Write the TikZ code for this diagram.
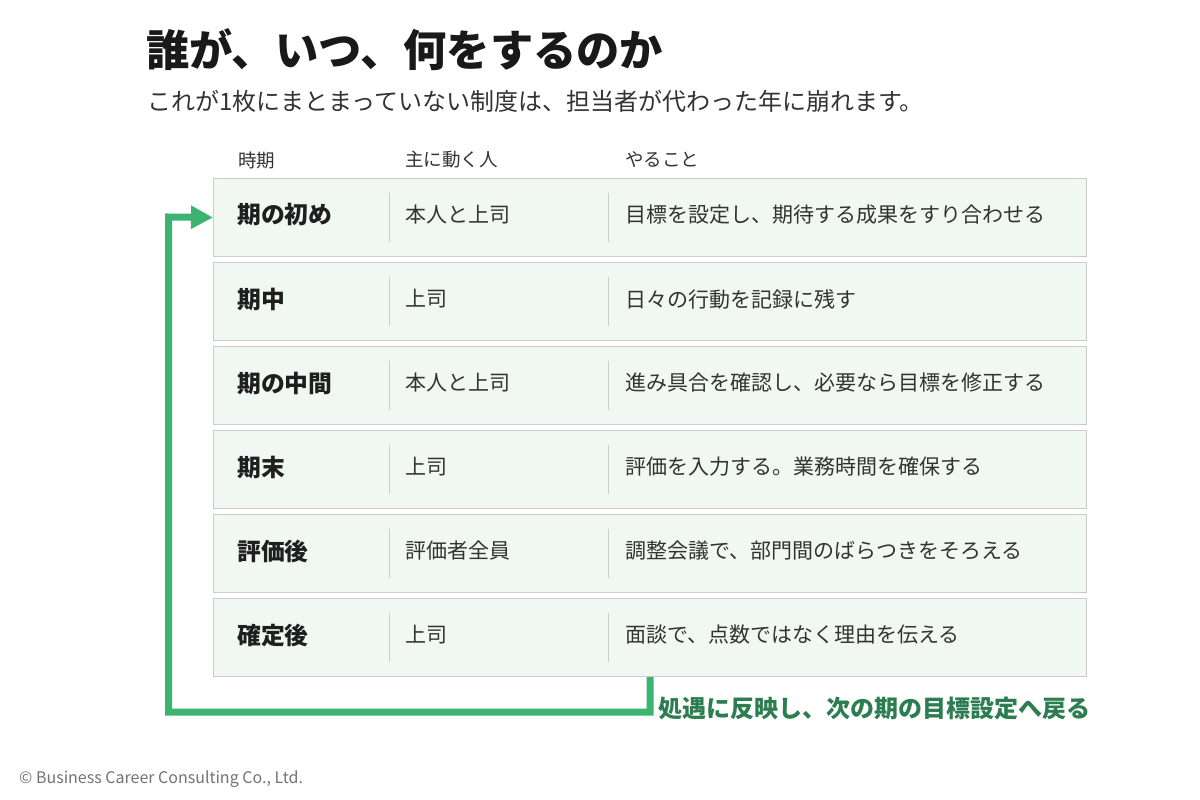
\documentclass[tikz,border=0pt]{standalone}
\usepackage{fontspec}
\setmainfont{Noto Sans CJK JP}
\usetikzlibrary{arrows.meta,calc,backgrounds}
\definecolor{rowfill}{HTML}{F1F8F3}
\definecolor{rowline}{HTML}{CCCCCC}
\definecolor{loopgreen}{HTML}{3DB372}
\definecolor{labgreen}{HTML}{2C7D50}
\definecolor{txt}{HTML}{333333}
\begin{document}
\begin{tikzpicture}[x=1pt,y=-1pt,
  rowbox/.style={draw=rowline,line width=1pt,fill=rowfill,minimum width=873pt,minimum height=78pt,anchor=north west,inner sep=0pt},
  divline/.style={draw=rowline,line width=1pt},
  phase/.style={anchor=west,inner sep=0pt,font=\fontsize{23.8}{28}\selectfont\bfseries,text=black!88},
  cell/.style={anchor=west,inner sep=0pt,font=\fontsize{21}{25}\selectfont,text=txt},
  head/.style={anchor=west,inner sep=0pt,font=\fontsize{18.5}{22}\selectfont,text=txt},
  loopline/.style={draw=loopgreen,line width=7pt}
]
\useasboundingbox (0,0) rectangle (1200,800);
\fill[white] (0,0) rectangle (1200,800);
\node[anchor=west,inner sep=0pt,font=\fontsize{43.3}{52}\selectfont\bfseries,text=black!90] (title) at (146,50) {誰が、いつ、何をするのか};
\node[anchor=west,inner sep=0pt,font=\fontsize{24}{29}\selectfont,text=txt] (sub) at (147,101) {これが1枚にまとまっていない制度は、担当者が代わった年に崩れます。};
\node[head] (h1) at (238,160) {時期};
\node[head] (h2) at (405,160) {主に動く人};
\node[head] (h3) at (625,160) {やること};
\foreach \i/\p/\w/\t in {
  1/期の初め/本人と上司/目標を設定し、期待する成果をすり合わせる,
  2/期中/上司/日々の行動を記録に残す,
  3/期の中間/本人と上司/進み具合を確認し、必要なら目標を修正する,
  4/期末/上司/評価を入力する。業務時間を確保する,
  5/評価後/評価者全員/調整会議で、部門間のばらつきをそろえる,
  6/確定後/上司/面談で、点数ではなく理由を伝える}{
  \pgfmathsetmacro\ty{178+84*(\i-1)}
  \node[rowbox] (r\i) at (213,\ty) {};
  \draw[divline] ($(r\i.north west)+(176,15)$) -- ($(r\i.north west)+(176,64)$);
  \draw[divline] ($(r\i.north west)+(395,15)$) -- ($(r\i.north west)+(395,64)$);
  \node[phase] (p\i) at (237,\ty+37) {\p};
  \node[cell] (w\i) at (405,\ty+37) {\w};
  \node[cell] (t\i) at (625,\ty+37) {\t};
}
\coordinate (c1) at (650,712);
\coordinate (c2) at (168.5,712);
\coordinate (c3) at (168.5,217);
\begin{pgfonlayer}{background}
\draw[loopline] (r1.south -| c1) -- (r6.south -| c1);
\end{pgfonlayer}
\draw[loopline,-{Triangle[length=22pt,width=22pt]}] (r6.south -| c1) -- (c1) -- (c2) -- (c3) -- (r1.west);
\node[anchor=west,inner sep=0pt,font=\fontsize{24}{28}\selectfont\bfseries,text=labgreen] (back) at (658,708) {処遇に反映し、次の期の目標設定へ戻る};
\node[anchor=west,inner sep=0pt,font=\fontsize{16}{19}\selectfont,text=black!55] (copy) at (19,779) {© Business Career Consulting Co., Ltd.};
\end{tikzpicture}
\end{document}
